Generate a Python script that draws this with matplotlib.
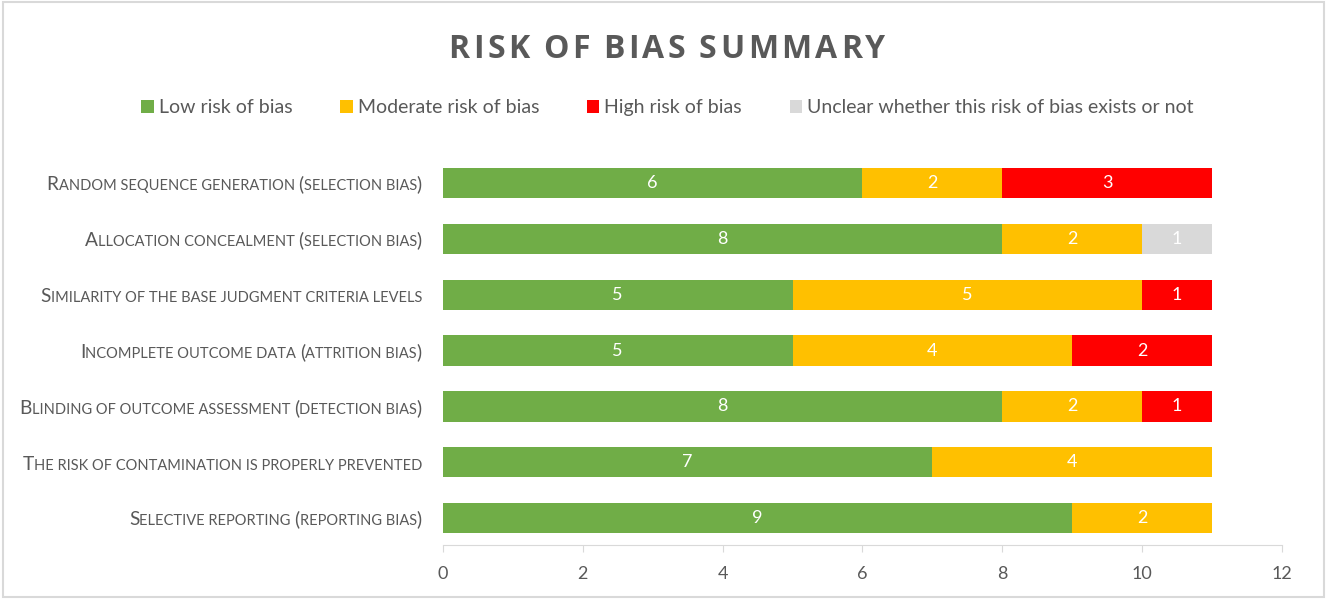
import numpy as np
import matplotlib.pyplot as plt
from matplotlib import transforms
from matplotlib.patches import Rectangle

plt.rcParams['font.family'] = ['Lato', 'DejaVu Sans']

# === Data ===
categories = [
    "Random sequence generation (selection bias)",
    "Allocation concealment (selection bias)",
    "Similarity of the base judgment criteria levels",
    "Incomplete outcome data (attrition bias)",
    "Blinding of outcome assessment (detection bias)",
    "The risk of contamination is properly prevented",
    "Selective reporting (reporting bias)",
]
low = [6, 8, 5, 5, 8, 7, 9]
moderate = [2, 2, 5, 4, 2, 4, 2]
high = [3, 0, 1, 2, 1, 0, 0]
unclear = [0, 1, 0, 0, 0, 0, 0]

series_names = ["Low risk of bias", "Moderate risk of bias", "High risk of bias",
                "Unclear whether this risk of bias exists or not"]
series_colors = ["#70AD47", "#FFC000", "#FF0000", "#D9D9D9"]
x_ticks = [0, 2, 4, 6, 8, 10, 12]
title = "RISK OF BIAS SUMMARY"

text_gray = "#595959"

fig = plt.figure(figsize=(13.27, 5.99), dpi=100)
ax = fig.add_axes([0.3338, 0.0902, 0.6322, 0.6528])
renderer = fig.canvas.get_renderer()

y = np.arange(len(categories))
left = np.zeros(len(categories))
for vals, name, col in zip([low, moderate, high, unclear], series_names, series_colors):
    vals = np.array(vals)
    ax.barh(y, vals, left=left, height=0.54, color=col, label=name)
    for yi, v, l in zip(y, vals, left):
        if v > 0:
            ax.text(l + v / 2, yi, str(v), ha='center', va='center', color='white', fontsize=13)
    left = left + vals

ax.set_xlim(0, 12)
ax.set_ylim(len(categories) - 0.52, -0.52)
ax.set_xticks(x_ticks)
ax.tick_params(axis='x', colors="#D9D9D9", labelcolor=text_gray, labelsize=13, length=5, pad=10)
ax.set_yticks([])
for s in ['top', 'right', 'left']:
    ax.spines[s].set_visible(False)
ax.spines['bottom'].set_color("#D9D9D9")

# Small caps style category labels
base = ax.get_yaxis_transform()
for yi, label in zip(y, categories):
    runs = []
    for ch in label:
        big = not ch.islower() and ch != ' '
        if ch == ' ' and runs:
            big = runs[-1][1]
        if runs and runs[-1][1] == big:
            runs[-1][0] += ch
        else:
            runs.append([ch, big])
    offset = 21 * 72 / fig.dpi
    for txt, big in reversed(runs):
        tr = transforms.offset_copy(base, fig=fig, x=-offset, y=0, units='points')
        t = ax.text(0, yi, txt.upper(), transform=tr, ha='right', va='baseline',
                    fontsize=13.8 if big else 10.5, color=text_gray)
        t.set_y(yi + 0.13)
        w = t.get_window_extent(renderer).width
        offset += w * 72 / fig.dpi

# Title with letter spacing
title_font = dict(fontsize=23, fontweight='bold', color=text_gray, family=['Open Sans', 'DejaVu Sans'])
tracking = 3.5
widths = []
for ch in title:
    t = fig.text(0, 0, ch if ch != ' ' else 'I', **title_font)
    w = t.get_window_extent(renderer).width
    t.remove()
    widths.append(w * 0.6 if ch == ' ' else w)
total = sum(widths) + tracking * (len(title) - 1)
xpos = 667 - total / 2
for ch, w in zip(title, widths):
    if ch != ' ':
        fig.text(xpos / 1327, 1 - 50 / 599, ch, ha='left', va='center', **title_font)
    xpos += w + tracking

fig.legend(loc='center', bbox_to_anchor=(0.503, 0.82), ncol=4, frameon=False,
           fontsize=14, handlelength=0.65, handleheight=0.65, handletextpad=0.25,
           columnspacing=2.45, labelcolor=text_gray)

fig.patches.append(Rectangle((0.002, 0.003), 0.996, 0.994, transform=fig.transFigure,
                             fill=False, edgecolor="#D9D9D9", linewidth=1.5))

plt.savefig('out.png', dpi=100)
